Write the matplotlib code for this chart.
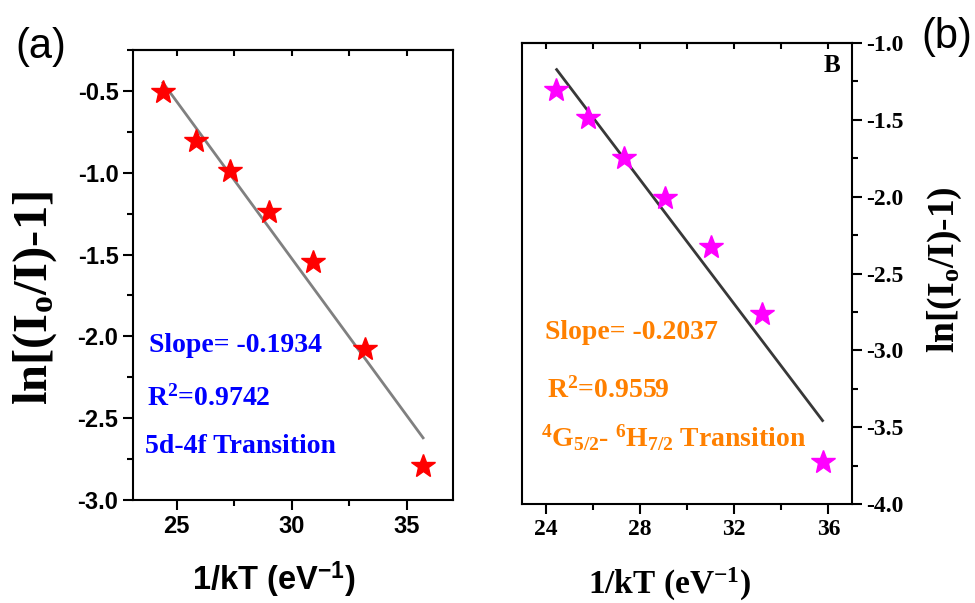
import matplotlib
matplotlib.use("Agg")
import matplotlib.pyplot as plt
from matplotlib.ticker import MultipleLocator

# panel (a): 5d-4f transition
x_a = [24.4, 25.83, 27.3, 29.0, 30.9, 33.18, 35.7]
y_a = [-0.505, -0.805, -0.988, -1.238, -1.543, -2.075, -2.79]
fit_x_a = [24.4, 35.7]
fit_y_a = [-0.45, -2.62]

# panel (b): 4G5/2 - 6H7/2 transition
x_b = [24.45, 25.78, 27.31, 29.06, 31.0, 33.2, 35.75]
y_b = [-1.303, -1.487, -1.747, -2.006, -2.325, -2.764, -3.727]
fit_x_b = [24.47, 35.75]
fit_y_b = [-1.173, -3.457]

serif = "Liberation Serif"
sans = "Liberation Sans"

plt.rcParams["axes.unicode_minus"] = False
plt.rcParams["font.weight"] = "bold"
plt.rcParams["mathtext.fontset"] = "custom"
plt.rcParams["mathtext.rm"] = "Liberation Serif:bold"
plt.rcParams["mathtext.it"] = "Liberation Serif:bold"
plt.rcParams["mathtext.bf"] = "Liberation Serif:bold"
plt.rcParams["mathtext.sf"] = "Liberation Sans:bold"

fig = plt.figure(figsize=(9.75, 6.03), dpi=100)

# ---------------- panel (a) ----------------
ax = fig.add_axes([133/975, 103/603, 320/975, 450/603])
ax.plot(fit_x_a, fit_y_a, color="#808080", lw=2.0, zorder=2)
ax.plot(x_a, y_a, ls="none", marker="*", ms=18, color="red", mec="red", zorder=3)
ax.set_xlim(23.1, 37)
ax.set_ylim(-3.0, -0.25)
ax.xaxis.set_major_locator(MultipleLocator(5))
ax.xaxis.set_minor_locator(MultipleLocator(2.5))
ax.yaxis.set_major_locator(MultipleLocator(0.5))
ax.yaxis.set_minor_locator(MultipleLocator(0.25))
ax.tick_params(which="major", direction="out", length=7, width=1.5,
               labelsize=17, labelfontfamily=sans)
ax.tick_params(which="minor", direction="out", length=4, width=1.5)
for sp in ax.spines.values():
    sp.set_linewidth(1.5)
top = ax.secondary_xaxis("top")
top.set_xticks([25, 27.5, 30, 32.5, 35])
top.tick_params(direction="in", length=4, width=1.5, labeltop=False)
top.spines["top"].set_linewidth(1.5)

ax.set_xlabel("1/kT (eV$^{\\mathsf{-1}}$)", fontfamily=sans, fontweight="bold", fontsize=23.5)
ax.xaxis.label.set_va("baseline")
ax.xaxis.set_label_coords(0.44, -0.2)
ax.set_ylabel("ln[(I$_{\\mathrm{o}}$/I)-1]", fontfamily=serif, fontweight="bold", fontsize=35)
ax.yaxis.label.set_va("center")
ax.yaxis.set_label_coords(-0.306, 0.449)

ax.text(0.05, 0.344, "Slope= -0.1934", transform=ax.transAxes, color="#0000FF",
        fontfamily=serif, fontweight="bold", fontsize=20, va="center")
ax.text(0.044, 0.227, "R$^2$=0.9742", transform=ax.transAxes, color="#0000FF",
        fontfamily=serif, fontweight="bold", fontsize=20, va="center")
ax.text(0.0375, 0.118, "5d-4f Transition", transform=ax.transAxes, color="#0000FF",
        fontfamily=serif, fontweight="bold", fontsize=20, va="center")

# ---------------- panel (b) ----------------
bx = fig.add_axes([522/975, 99/603, 330/975, 461/603])
bx.plot(fit_x_b, fit_y_b, color="#383838", lw=2.0, zorder=2)
bx.plot(x_b, y_b, ls="none", marker="*", ms=18, color="#FF00FF", mec="#FF00FF", zorder=3)
bx.set_xlim(23, 37)
bx.set_ylim(-4.0, -1.0)
bx.xaxis.set_major_locator(MultipleLocator(4))
bx.xaxis.set_minor_locator(MultipleLocator(2))
bx.yaxis.set_major_locator(MultipleLocator(0.5))
bx.yaxis.set_minor_locator(MultipleLocator(0.25))
bx.yaxis.tick_right()
bx.yaxis.set_label_position("right")
bx.tick_params(which="major", direction="out", length=7, width=1.5,
               labelsize=17, labelfontfamily=serif)
bx.tick_params(which="minor", direction="out", length=4, width=1.5)
for sp in bx.spines.values():
    sp.set_linewidth(1.5)
topb = bx.secondary_xaxis("top")
topb.set_xticks([24, 26, 28, 30, 32, 34, 36])
topb.tick_params(direction="in", length=4, width=1.5, labeltop=False)
topb.spines["top"].set_linewidth(1.5)

bx.set_xlabel("1/kT (eV$^{\\mathrm{-1}}$)", fontfamily=serif, fontweight="bold", fontsize=24)
bx.xaxis.label.set_va("baseline")
bx.xaxis.set_label_coords(0.447, -0.195)
bx.set_ylabel("ln[(I$_{\\mathrm{o}}$/I)-1)", fontfamily=serif, fontweight="bold", fontsize=27,
              rotation=90)
bx.yaxis.label.set_va("center")
bx.yaxis.set_label_coords(1.282, 0.508)

orange = "#FF8000"
bx.text(0.07, 0.371, "Slope= -0.2037", transform=bx.transAxes, color=orange,
        fontfamily=serif, fontweight="bold", fontsize=20, va="center")
bx.text(0.076, 0.247, "R$^2$=0.9559", transform=bx.transAxes, color=orange,
        fontfamily=serif, fontweight="bold", fontsize=20, va="center")
bx.text(0.058, 0.143, "$^4$G$_{5/2}$- $^6$H$_{7/2}$ Transition", transform=bx.transAxes,
        color=orange, fontfamily=serif, fontweight="bold", fontsize=20, va="center")
bx.text(0.94, 0.952, "B", transform=bx.transAxes, color="black",
        fontfamily=serif, fontweight="bold", fontsize=18, ha="center", va="center")

fig.text(41/975, 1 - 47/603, "(a)", fontfamily=sans, fontweight="normal", fontsize=30,
         ha="center", va="center")
fig.text(947/975, 1 - 37/603, "(b)", fontfamily=sans, fontweight="normal", fontsize=30,
         ha="center", va="center")

fig.savefig("out.png", dpi=100)
